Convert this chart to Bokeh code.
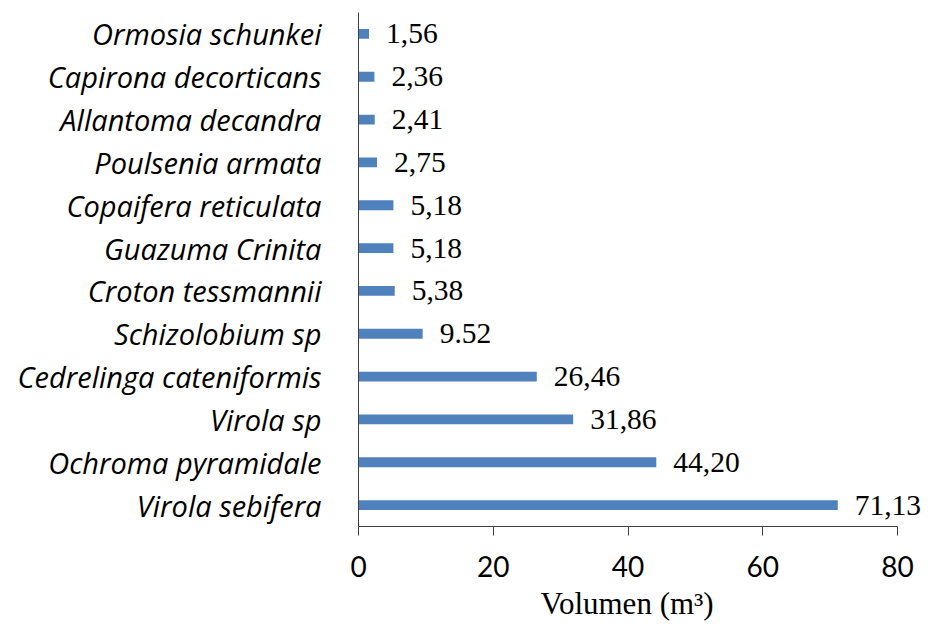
from bokeh.plotting import figure
from bokeh.models import Range1d, FactorRange, ColumnDataSource, FixedTicker, Title
from bokeh.core.properties import value
from bokeh.embed import file_html
from bokeh.resources import INLINE

species = ["Virola sebifera", "Ochroma pyramidale", "Virola sp", "Cedrelinga cateniformis",
           "Schizolobium sp", "Croton tessmannii", "Guazuma Crinita", "Copaifera reticulata",
           "Poulsenia armata", "Allantoma decandra", "Capirona decorticans", "Ormosia schunkei"]
volumes = [71.13, 44.20, 31.86, 26.46, 9.52, 5.38, 5.18, 5.18, 2.75, 2.41, 2.36, 1.56]
value_labels = ["71,13", "44,20", "31,86", "26,46", "9.52", "5,38", "5,18", "5,18",
                "2,75", "2,41", "2,36", "1,56"]
x_ticks = [0, 20, 40, 60, 80]

src = ColumnDataSource(dict(sp=species, v=volumes, lab=value_labels))

p = figure(width=928, height=630, output_backend="svg", toolbar_location=None,
           x_range=Range1d(0, 84.6), y_range=FactorRange(factors=species, range_padding=0),
           min_border_left=358, min_border_right=0, min_border_top=12, min_border_bottom=104)
p.outline_line_color = None
p.xgrid.grid_line_color = None
p.ygrid.grid_line_color = None

p.hbar(y="sp", right="v", left=0, height=0.23, source=src, color="#4F81BD", line_color=None)
p.text(x="v", y="sp", text="lab", source=src, x_offset=17, text_baseline="middle",
       text_align="left", text_font=value("Liberation Serif"), text_font_size="29.5px",
       text_color="black")

p.xaxis.bounds = (0, 80)
p.xaxis.ticker = FixedTicker(ticks=x_ticks)
p.xaxis.minor_tick_line_color = None
p.xaxis.major_tick_in = 0
p.xaxis.major_tick_out = 9
p.xaxis.major_tick_line_color = "#404040"
p.xaxis.axis_line_color = "#404040"
p.xaxis.major_label_text_font = "Lato"
p.xaxis.major_label_text_font_size = "28px"
p.xaxis.major_label_text_color = "black"
p.xaxis.major_label_standoff = 20

xlabel = Title(text="Volumen (m³)", text_font="Liberation Serif", text_font_size="31px",
               text_font_style="normal", text_color="black", align="left", offset=182,
               standoff=9)
p.add_layout(xlabel, "below")

p.yaxis.major_tick_line_color = None
p.yaxis.minor_tick_line_color = None
p.yaxis.axis_line_color = "#404040"
p.yaxis.major_label_text_font = "Open Sans"
p.yaxis.major_label_text_font_style = "italic"
p.yaxis.major_label_text_font_size = "29px"
p.yaxis.major_label_text_color = "black"
p.yaxis.major_label_standoff = 31

open("out.html", "w").write(file_html(p, INLINE))
